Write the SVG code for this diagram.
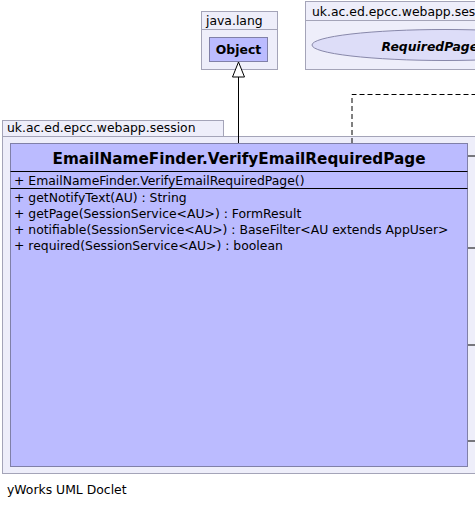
<svg xmlns="http://www.w3.org/2000/svg" width="475" height="512" viewBox="0 0 475 512">
<style>
.pkg{fill:#eeeefa;stroke:#a4a4b8;stroke-width:1}
.cls{fill:#bbbbff;stroke:#8080a8;stroke-width:1}
.sep{stroke:#000;stroke-width:1}
.t{font-family:"DejaVu Sans",sans-serif;font-size:12.4px;fill:#000}
.title{font-family:"DejaVu Sans",sans-serif;font-size:15.5px;font-weight:bold;fill:#000}
.edge{fill:none;stroke:#000;stroke-width:1}
</style>
<rect width="475" height="512" fill="#fff"/>
<g id="pkg-java-lang">
<rect class="pkg" x="201.5" y="11.5" width="76" height="58"/>
<line class="pkg" x1="201.5" y1="29.5" x2="277.5" y2="29.5"/>
<text class="t" x="206" y="25">java.lang</text>
</g>
<g id="node-Object">
<rect class="cls" x="209.5" y="37.5" width="58" height="24"/>
<text class="t" x="238.5" y="54" text-anchor="middle" font-weight="bold" font-size="13">Object</text>
</g>
<g id="pkg-session-top">
<rect class="pkg" x="305.5" y="1.5" width="180" height="68"/>
<line class="pkg" x1="305.5" y1="20.5" x2="485" y2="20.5"/>
<text class="t" x="312" y="16">uk.ac.ed.epcc.webapp.session</text>
</g>
<g id="node-RequiredPage">
<ellipse cx="445" cy="45" rx="133" ry="15.5" fill="#ddddf8" stroke="#8888aa" stroke-width="1"/>
<text class="t" x="381.5" y="51" font-weight="bold" font-style="italic" font-size="14">RequiredPage</text>
</g>
<g id="pkg-session">
<rect class="pkg" x="2.5" y="120.5" width="221" height="16"/>
<rect class="pkg" x="2.5" y="136.5" width="490" height="337"/>
<text class="t" x="7" y="132">uk.ac.ed.epcc.webapp.session</text>
</g>
<g id="node-VerifyEmailRequiredPage">
<rect class="cls" x="10.5" y="143.5" width="457" height="323"/>
<text class="title" x="239" y="163.5" text-anchor="middle" textLength="373" lengthAdjust="spacingAndGlyphs">EmailNameFinder.VerifyEmailRequiredPage</text>
<line class="sep" x1="10.5" y1="171.5" x2="467.5" y2="171.5"/>
<text class="t" x="14" y="184.5">+  EmailNameFinder.VerifyEmailRequiredPage()</text>
<line class="sep" x1="10.5" y1="188.5" x2="467.5" y2="188.5"/>
<text class="t" x="14" y="201.5">+  getNotifyText(AU) : String</text>
<text class="t" x="14" y="217.5">+  getPage(SessionService&lt;AU&gt;) : FormResult</text>
<text class="t" x="14" y="233.5">+  notifiable(SessionService&lt;AU&gt;) : BaseFilter&lt;AU extends AppUser&gt;</text>
<text class="t" x="14" y="249.5">+  required(SessionService&lt;AU&gt;) : boolean</text>
</g>
<g id="connectors">
<line class="edge" x1="238.5" y1="143" x2="238.5" y2="76"/>
<polygon points="238.5,62 232.5,77 244.5,77" fill="#fff" stroke="#000" stroke-width="1"/>
<polyline class="edge" stroke-dasharray="5,3" points="352,143 352,94.5 480,94.5"/>
<line class="edge" x1="468" y1="156" x2="480" y2="156"/>
<line class="edge" x1="468" y1="248" x2="480" y2="248"/>
<line class="edge" x1="468" y1="345" x2="480" y2="345"/>
<line class="edge" x1="468" y1="441" x2="480" y2="441"/>
</g>
<text class="t" x="7" y="494">yWorks UML Doclet</text>
</svg>
